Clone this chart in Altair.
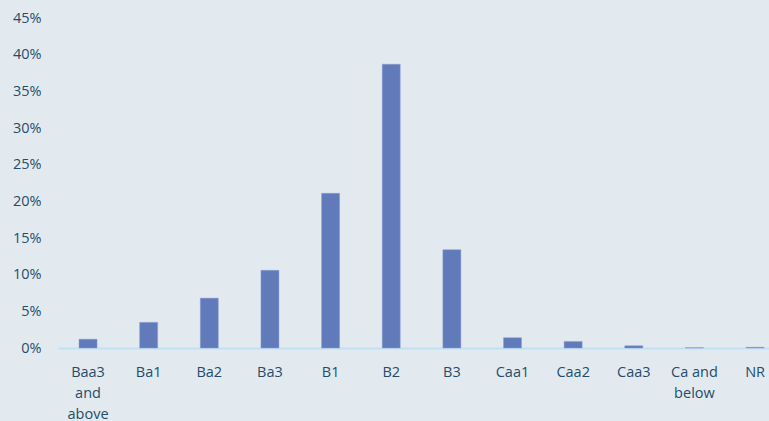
import altair as alt
import pandas as pd

categories = ["Baa3\nand\nabove", "Ba1", "Ba2", "Ba3", "B1", "B2", "B3",
              "Caa1", "Caa2", "Caa3", "Ca and\nbelow", "NR"]
shares = [1.2, 3.5, 6.8, 10.6, 21.1, 38.7, 13.4, 1.4, 0.9, 0.3, 0.05, 0.1]
y_ticks = [0, 5, 10, 15, 20, 25, 30, 35, 40, 45]

df = pd.DataFrame({"cat": categories, "v": [s / 100 for s in shares]})

text_color = "#1f4d6b"
font = "Open Sans"

chart = alt.Chart(df).mark_bar(color="#617aba", stroke="#8a9fd0", strokeWidth=0.5).encode(
    x=alt.X("cat:N", sort=categories,
            scale=alt.Scale(paddingInner=0.703, paddingOuter=0.214, align=0.81),
            axis=alt.Axis(title=None, labelAngle=0, ticks=False, domain=True,
                          domainColor="#bfe1f6", domainWidth=2,
                          labelExpr="split(datum.label, '\\n')",
                          labelLineHeight=21, labelPadding=24,
                          labelFont=font, labelFontSize=14.5, labelColor=text_color,
                          labelBaseline="middle")),
    y=alt.Y("v:Q", scale=alt.Scale(domain=[0, 0.45], nice=False),
            axis=alt.Axis(title=None, format=".0%", values=[t / 100 for t in y_ticks],
                          grid=False, ticks=False, domain=False, labelPadding=17,
                          labelFont=font, labelFontSize=14.5, labelColor=text_color)),
).properties(
    width=711, height=330,
    background="#e3eaef",
    padding={"left": 58, "top": 18, "right": 0, "bottom": 73},
    autosize=alt.AutoSizeParams(type="none"),
).configure_view(stroke=None)

chart.save("out.html", embed_options={"renderer": "svg", "actions": False})
